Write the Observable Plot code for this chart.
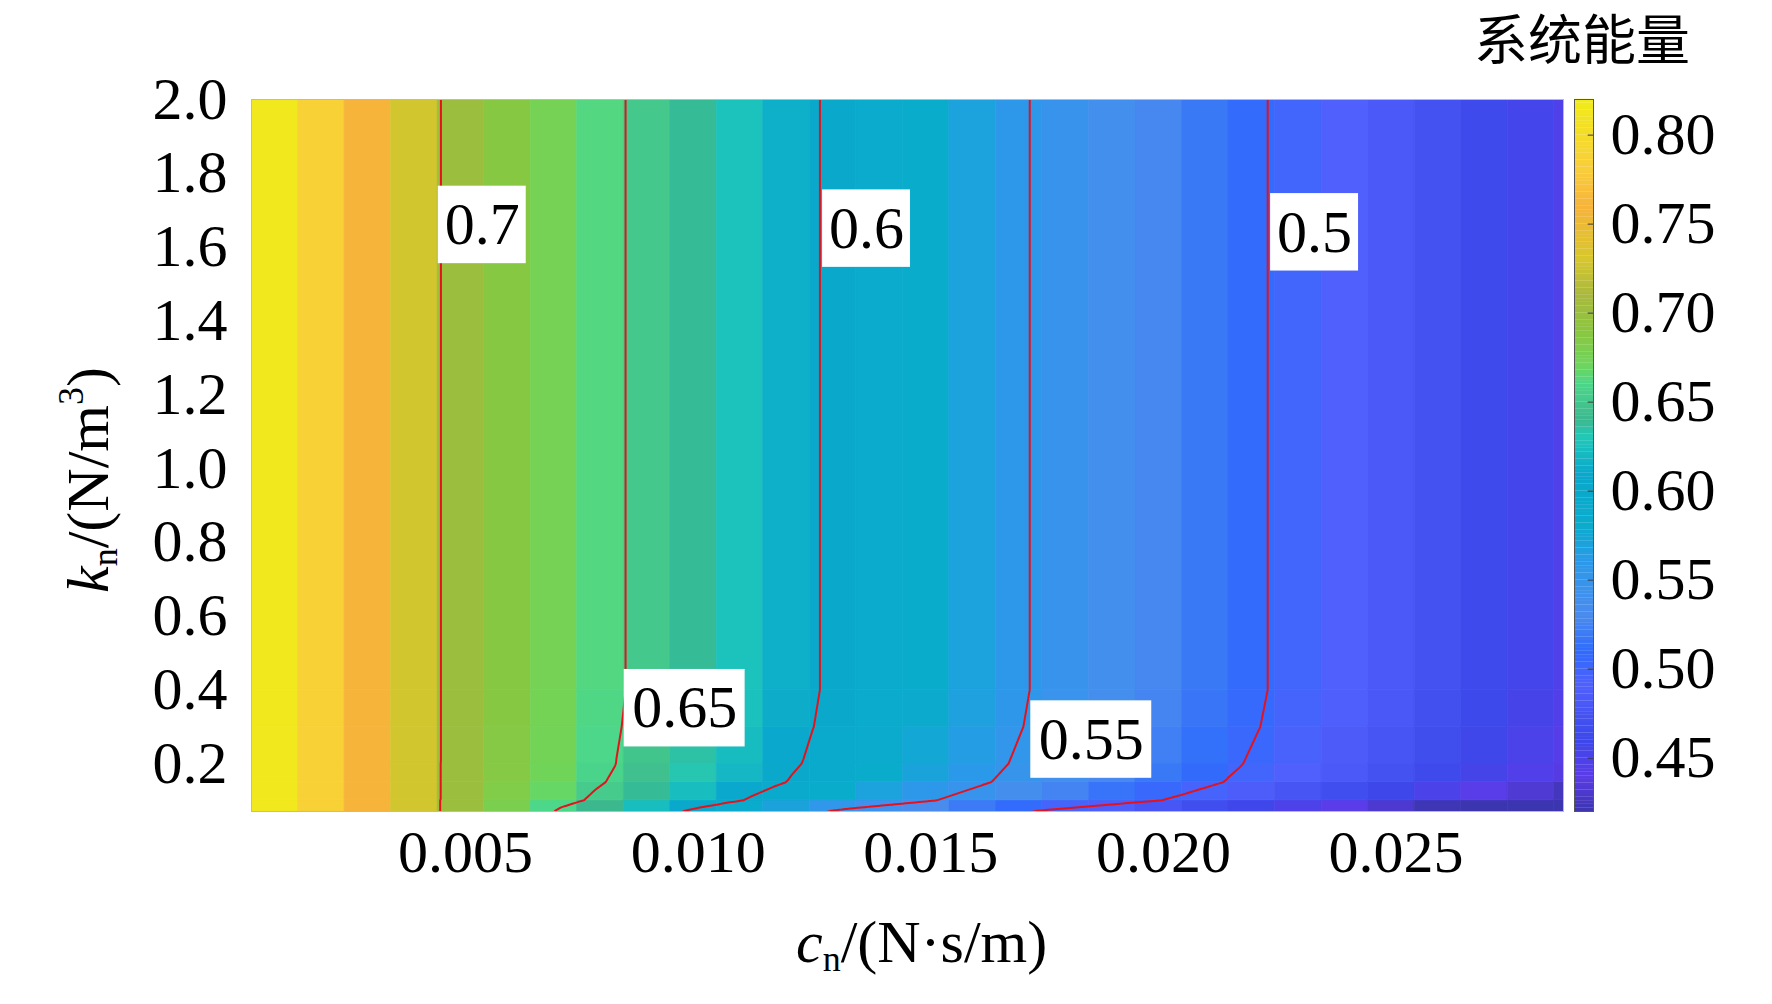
<!DOCTYPE html>
<html>
<head>
<meta charset="utf-8">
<script src="https://cdn.jsdelivr.net/npm/d3@7"></script>
<script src="https://cdn.jsdelivr.net/npm/@observablehq/plot@0.6"></script>
<style>
  body { margin: 0; background: #fff; }
  #wrap { position: relative; width: 1772px; height: 1004px; font-family: "Liberation Serif", serif; }
  #wrap > * { position: absolute; }
  .lbl { font-size: 60px; color: #000; white-space: nowrap; }
  sub { font-size: 0.6em; vertical-align: -0.25em; }
  sup { font-size: 0.6em; vertical-align: 0.7em; line-height: 0; }
</style>
</head>
<body>
<div id="wrap"></div>
<script>
// grid nodes (c_n, k_n) and system energy
const cn = [0.0004, 0.0014, 0.0024, 0.0034, 0.0044, 0.0054, 0.0064, 0.0074, 0.0084, 0.0094,
  0.0104, 0.0114, 0.0124, 0.0134, 0.0144, 0.0154, 0.0164, 0.0174, 0.0184, 0.0194,
  0.0204, 0.0214, 0.0224, 0.0234, 0.0244, 0.0254, 0.0264, 0.0274, 0.0284]
const kn = [0.07, 0.1, 0.15, 0.2, 0.3, 0.4, 2.0]
const energy = [
  // k = 0.07
  [0.815,0.785,0.760,0.728,0.701,0.679,0.660,0.640,0.6225,0.604,0.587,0.570,0.5545,0.541,0.530,0.519,0.508,0.497,0.487,0.477,0.468,0.458,0.4485,0.440,0.431,0.422,0.413,0.405,0.397],
  // k = 0.1
  [0.815,0.785,0.760,0.728,0.701,0.683,0.668,0.652,0.638,0.623,0.608,0.594,0.581,0.569,0.558,0.547,0.536,0.525,0.515,0.505,0.496,0.486,0.476,0.468,0.459,0.450,0.441,0.433,0.425],
  // k = 0.15
  [0.815,0.785,0.760,0.728,0.701,0.686,0.672,0.658,0.645,0.632,0.619,0.606,0.594,0.582,0.571,0.560,0.549,0.538,0.528,0.518,0.509,0.499,0.490,0.481,0.472,0.463,0.454,0.446,0.438],
  // k = 0.2
  [0.815,0.785,0.760,0.728,0.701,0.686,0.6735,0.660,0.648,0.6345,0.622,0.6095,0.598,0.586,0.575,0.564,0.553,0.542,0.532,0.522,0.513,0.503,0.4935,0.485,0.476,0.467,0.458,0.450,0.442],
  // k = 0.3
  [0.815,0.785,0.760,0.728,0.701,0.687,0.6745,0.661,0.6495,0.637,0.625,0.613,0.601,0.5895,0.5785,0.5675,0.5565,0.5455,0.5355,0.5255,0.5165,0.5065,0.497,0.4885,0.4795,0.4705,0.4615,0.4535,0.4455],
  // k = 0.4
  [0.815,0.785,0.760,0.728,0.701,0.687,0.675,0.662,0.6505,0.638,0.626,0.614,0.6025,0.591,0.580,0.569,0.558,0.547,0.537,0.527,0.518,0.508,0.4985,0.490,0.481,0.472,0.463,0.455,0.447],
  // k = 2.0
  [0.815,0.785,0.760,0.728,0.701,0.687,0.675,0.662,0.6505,0.638,0.626,0.614,0.6025,0.591,0.580,0.569,0.558,0.547,0.537,0.527,0.518,0.508,0.4985,0.490,0.481,0.472,0.463,0.455,0.447]
]
const levels = [0.5, 0.55, 0.6, 0.65, 0.7]
const levelLabels = [
  {x: 0.00536, y: 1.66, text: "0.7"},
  {x: 0.00971, y: 0.35, text: "0.65"},
  {x: 0.01362, y: 1.65, text: "0.6"},
  {x: 0.01845, y: 0.265, text: "0.55"},
  {x: 0.02325, y: 1.64, text: "0.5"}
]
const xTicks = [0.005, 0.010, 0.015, 0.020, 0.025]
const yTicks = [0.2, 0.4, 0.6, 0.8, 1.0, 1.2, 1.4, 1.6, 1.8, 2.0]
const cbTicks = [0.45, 0.50, 0.55, 0.60, 0.65, 0.70, 0.75, 0.80]

// colour map stops
const cStops = [0.42, 0.44, 0.46, 0.49, 0.51, 0.53, 0.56, 0.58, 0.61, 0.63, 0.64, 0.66, 0.67, 0.69, 0.71, 0.73, 0.76, 0.78, 0.82]
const cColors = ["#3c35b0", "#5a3ce8", "#3c48ea", "#5060fc", "#306cfc", "#4a8cee", "#2b99ea", "#0aaccc", "#0aa8cc",
  "#20c9b8", "#3cb88f", "#4cd78a", "#6dd65c", "#8cc63f", "#a9b83e", "#d7c72d", "#f7b43a", "#f9cd3c", "#f0ec18"]
const cDomain = [0.42, 0.82]
const colorScale = {type: "linear", domain: cStops, range: cColors, clamp: true}

// cells (flat shading) and points for contouring; the outer copies only pad the contour grid
const cells = []
const points = []
const kPad = [-0.4, ...kn, 2.6]
const cPad = [-0.004, ...cn, 0.033]
for (let j = 0; j < kPad.length; j++) {
  const row = energy[Math.min(Math.max(j - 1, 0), kn.length - 1)]
  for (let i = 0; i < cPad.length; i++) {
    points.push({x: cPad[i], y: kPad[j], v: row[Math.min(Math.max(i - 1, 0), cn.length - 1)]})
  }
}
for (let j = 0; j < kn.length - 1; j++) {
  for (let i = 0; i < cn.length; i++) {
    cells.push({x1: cn[i], x2: i < cn.length - 1 ? cn[i + 1] : 0.0295, y1: kn[j], y2: kn[j + 1], v: energy[j][i]})
  }
}

const font = "Liberation Serif, serif"
const wrap = document.getElementById("wrap")
const boxW = t => (t.length > 3 ? 0.0026 : 0.00189)

const chart = Plot.plot({
  width: 1772, height: 1004,
  marginLeft: 251, marginRight: 209, marginTop: 99, marginBottom: 193,
  style: {fontFamily: font, fontSize: "60px", color: "#000", background: "transparent"},
  x: {domain: [0.0004, 0.0286], ticks: xTicks, tickFormat: d => d.toFixed(3), tickSize: 0, tickPadding: 18, label: null},
  y: {domain: [0.07, 2.0], ticks: yTicks, tickFormat: d => d.toFixed(1), tickSize: 0, tickPadding: 24, label: null},
  color: colorScale,
  marks: [
    Plot.rect(cells, {x1: "x1", x2: "x2", y1: "y1", y2: "y2", fill: "v", stroke: "v", strokeWidth: 0.6, clip: true}),
    Plot.contour(points, {x: "x", y: "y", value: "v", thresholds: levels, interpolate: "barycentric",
      x1: -0.003, x2: 0.032, y1: -0.3, y2: 2.5,
      pixelSize: 1.5, fill: "none", stroke: "#e5121c", strokeWidth: 2, clip: true}),
    Plot.rect(levelLabels, {x1: d => d.x - boxW(d.text) / 2, x2: d => d.x + boxW(d.text) / 2,
      y1: d => d.y - 0.105, y2: d => d.y + 0.105, fill: "#fff"}),
    Plot.text(levelLabels, {x: "x", y: "y", text: "text", fill: "#000", fontSize: 60, fontFamily: font}),
    Plot.frame({stroke: "#bbb", strokeWidth: 1})
  ]
})
chart.style.left = "0px"; chart.style.top = "0px"
wrap.appendChild(chart)

// colour bar
const steps = d3.range(cDomain[0], cDomain[1], 0.002)
const bar = Plot.plot({
  width: 200, height: 1004,
  marginLeft: 0, marginRight: 181, marginTop: 99, marginBottom: 193,
  style: {fontFamily: font, fontSize: "60px", color: "#000", background: "transparent"},
  x: {domain: [0, 1], axis: null},
  y: {domain: cDomain, axis: "right", ticks: cbTicks, tickFormat: d => d.toFixed(2), tickSize: 0, tickPadding: 17, label: null},
  color: colorScale,
  marks: [
    Plot.rect(steps, {x1: 0, x2: 1, y1: d => d, y2: d => d + 0.0021, fill: d => d + 0.001}),
    Plot.ruleY(cbTicks, {x1: 0.72, x2: 1, stroke: "#333", strokeWidth: 1}),
    Plot.frame({stroke: "#555", strokeWidth: 1})
  ]
})
bar.style.left = "1574px"; bar.style.top = "0px"; bar.style.overflow = "visible"
wrap.appendChild(bar)

// title and axis labels
const add = (html, css) => {
  const d = document.createElement("div")
  d.className = "lbl"
  d.innerHTML = html
  Object.assign(d.style, css)
  wrap.appendChild(d)
  return d
}
add("系统能量", {left: "1474px", top: "2px", fontFamily: "Noto Sans CJK SC, sans-serif", fontSize: "54px", lineHeight: "70px"})
add("<i>c</i><sub>n</sub>/(N·s/m)", {left: "796px", top: "908px"})
add("<i>k</i><sub>n</sub>/(N/m<sup>3</sup>)", {left: "90px", top: "480px", transform: "translate(-50%,-50%) rotate(-90deg)"})
</script>
</body>
</html>
